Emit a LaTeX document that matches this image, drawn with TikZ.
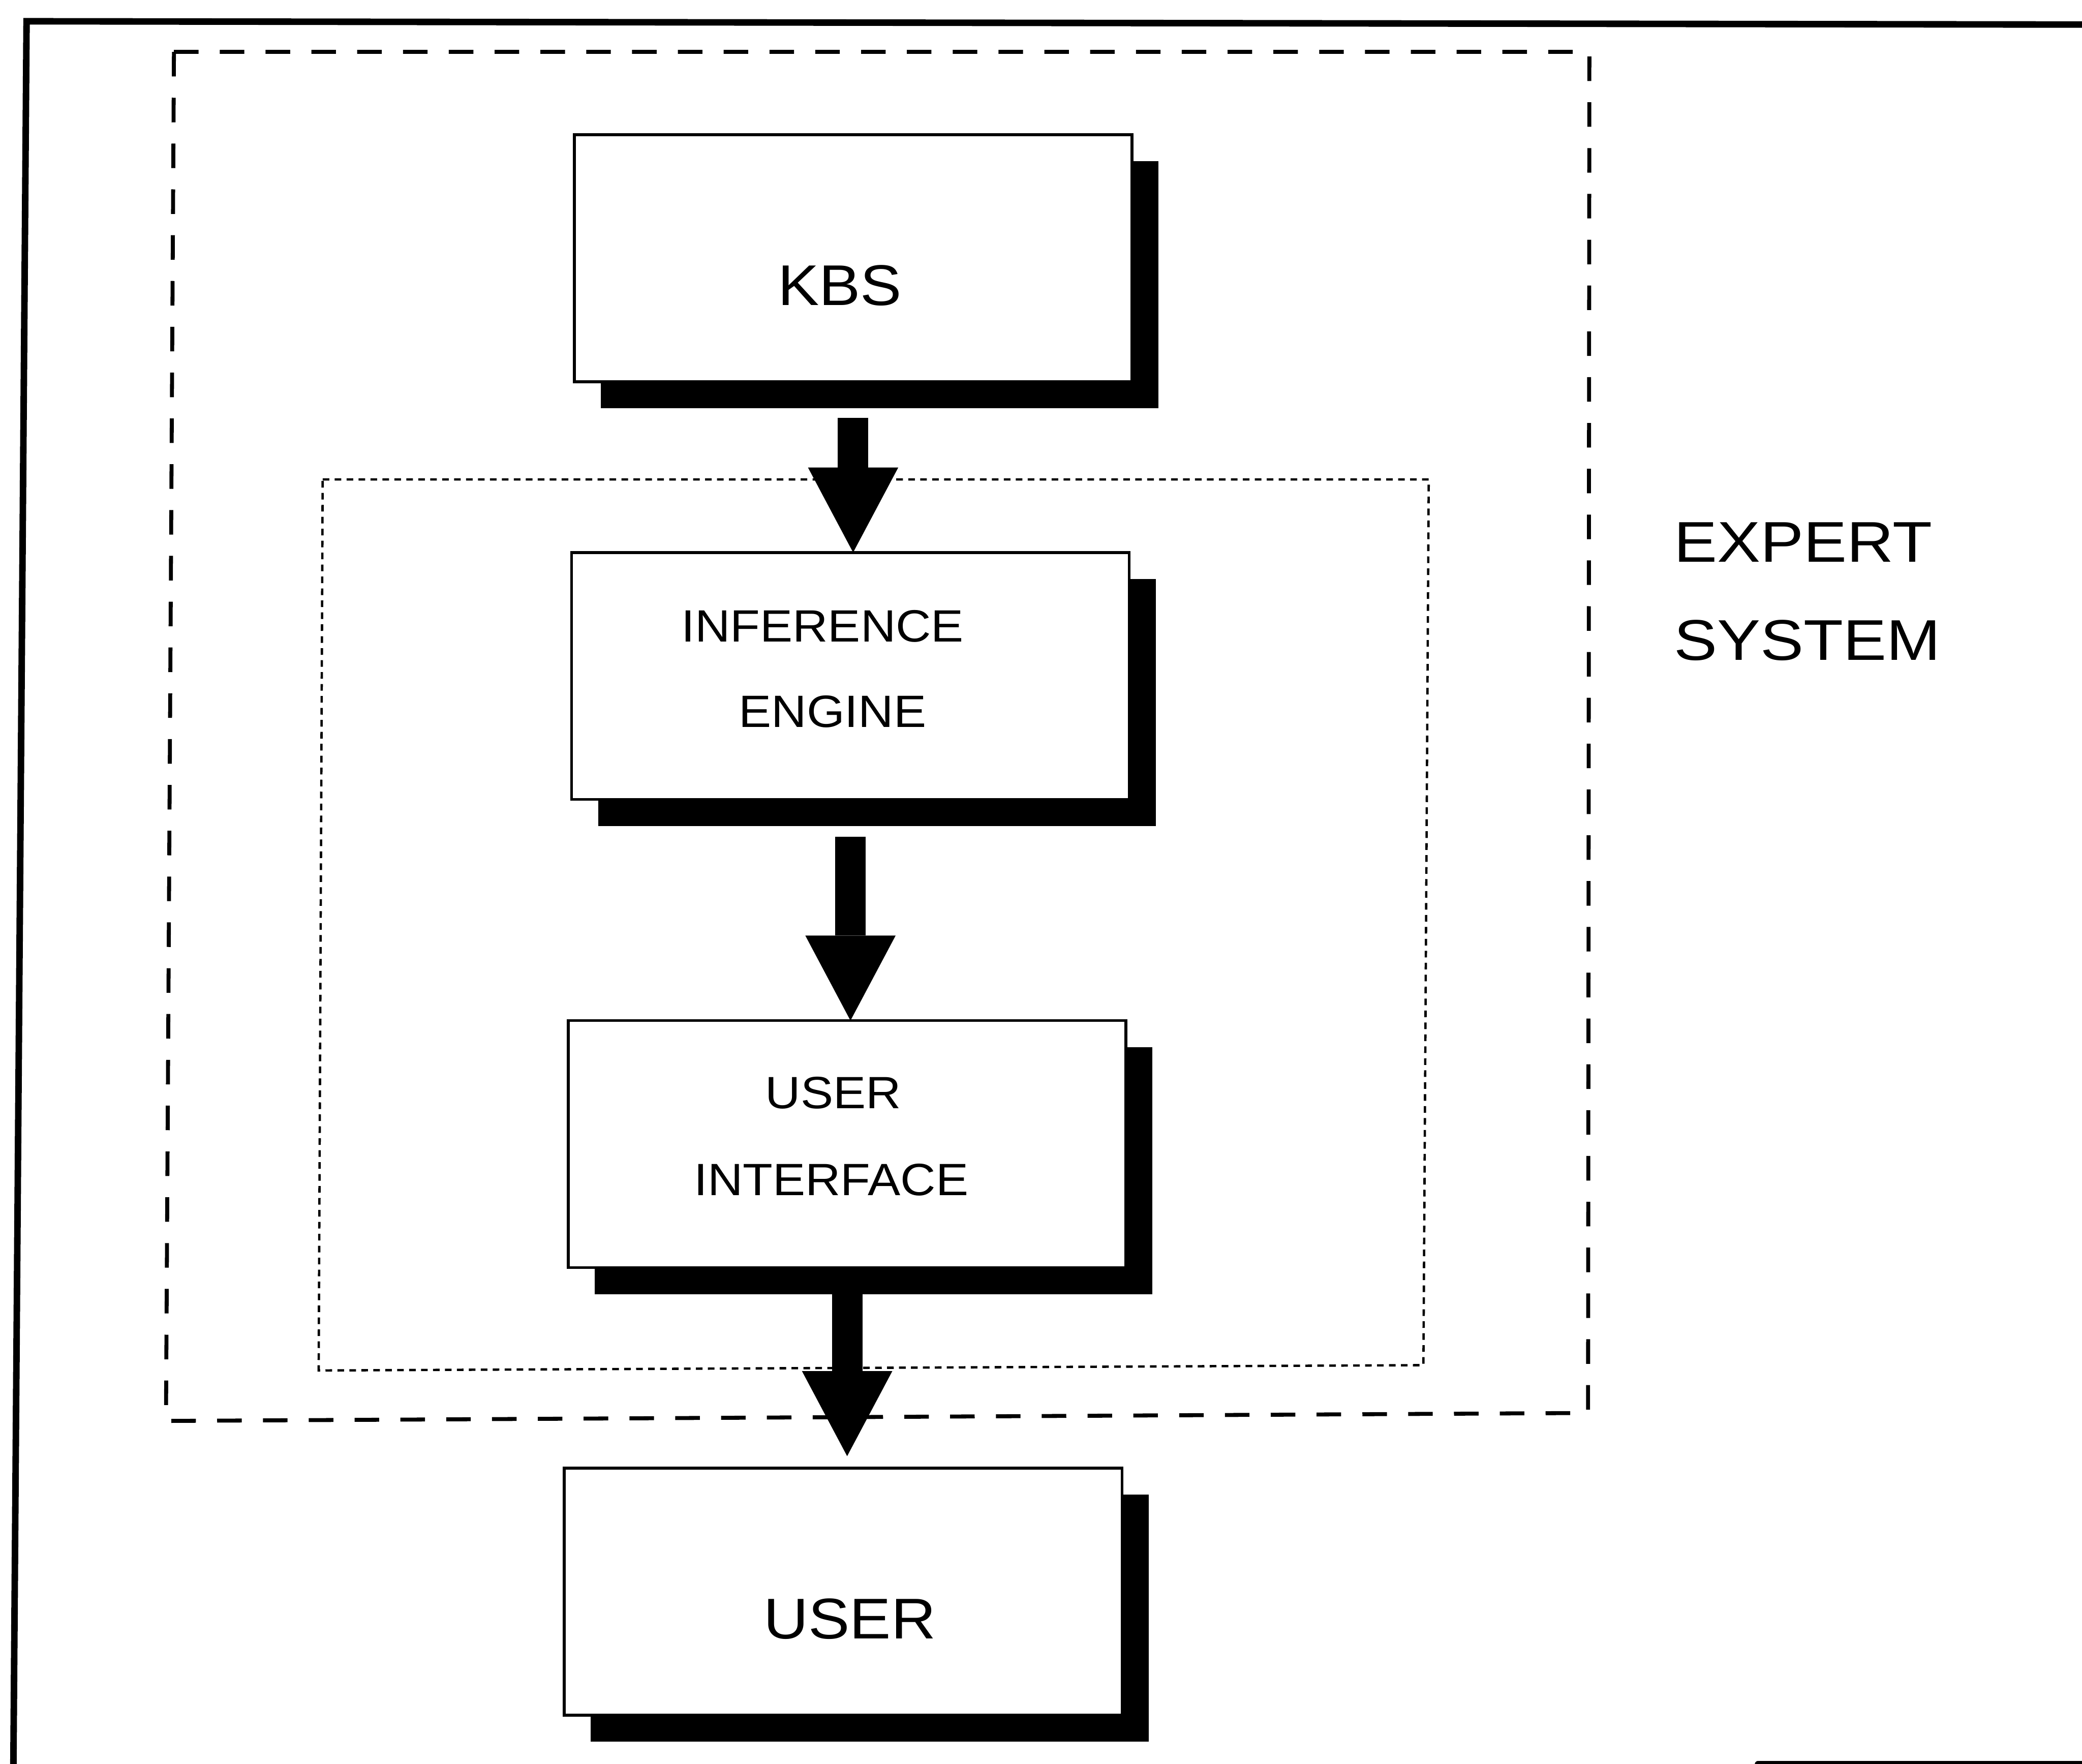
\documentclass[tikz,border=0pt]{standalone}
\usepackage{fontspec}
\newfontfamily\plotfont[FakeStretch=1.08]{Liberation Sans}
\newfontfamily\plotwidefont[FakeStretch=1.13]{Liberation Sans}
\usetikzlibrary{arrows.meta,shadows,calc}

\begin{document}
\begin{tikzpicture}[x=0.1mm,y=-0.1mm,
  frame/.style={line width=1.4pt, line cap=round},
  sysbound/.style={line width=0.85pt, dash pattern=on 1.85mm off 1.6mm},
  corebound/.style={line width=0.5pt, dash pattern=on 0.5mm off 0.4mm},
  module/.style={draw, line width=0.6pt, fill=white, rectangle,
    minimum width=4.2cm, minimum height=1.86cm, inner sep=0pt, outer sep=0pt,
    drop shadow={shadow xshift=2mm, shadow yshift=-2mm, fill=black, opacity=1}},
  biglbl/.style={inner sep=0pt, font=\plotfont\fontsize{12.3}{14}\selectfont},
  sidelbl/.style={inner sep=0pt, anchor=west, font=\plotwidefont\fontsize{12.3}{14}\selectfont},
  smalllbl/.style={inner sep=0pt, font=\plotfont\fontsize{9.7}{12}\selectfont},
  flow/.style={line width=2.3mm,
    -{Triangle[width=6.8mm, length=6.4mm, line width=0pt]}},
]
% page area
\path[use as bounding box] (0,0) rectangle (1568,1328);
\clip (0,0) rectangle (1568,1328);

% outer frame
\draw[frame] (1580,18.5) -- (20,16) -- (10,1340);
\draw[frame] (1324,1328.5) -- (1580,1328.5);

% expert system boundary
\draw[sysbound] (131,39) -- (1197,39) -- (1196,1064) -- (125,1070) -- cycle;

% inner core boundary
\draw[corebound] (243,361) -- (1076,361) -- (1072,1028) -- (240,1032) -- cycle;

% modules
\node[module] (kbs)  at (642.5,194.5) {};
\node[module] (ie)   at (640.5,509) {};
\node[module] (ui)   at (638,861.5) {};
\node[module] (user) at (635,1198.5) {};

% labels
\node[biglbl] (kbs-txt) at (632.5,215) {KBS};
\node[smalllbl] (ie-txt1) at (619.5,471.5) {INFERENCE};
\node[smalllbl] (ie-txt2) at (627,536) {ENGINE};
\node[smalllbl] (ui-txt1) at (627.5,823) {USER};
\node[smalllbl] (ui-txt2) at (626,888.5) {INTERFACE};
\node[biglbl] (user-txt) at (640,1219) {USER};
\node[sidelbl] (es-txt1) at (1260,408.5) {EXPERT};
\node[sidelbl] (es-txt2) at (1260,482) {SYSTEM};

% flow arrows
\draw[flow] ([yshift=-2.7mm]kbs.south) -- (kbs.south |- ie.north);
\draw[flow] ([yshift=-2.8mm]ie.south) -- (ie.south |- ui.north);
\draw[flow] ([yshift=-1.5mm]ui.south) -- ($(ui.south |- user.north)+(0,-9)$);
\end{tikzpicture}
\end{document}
